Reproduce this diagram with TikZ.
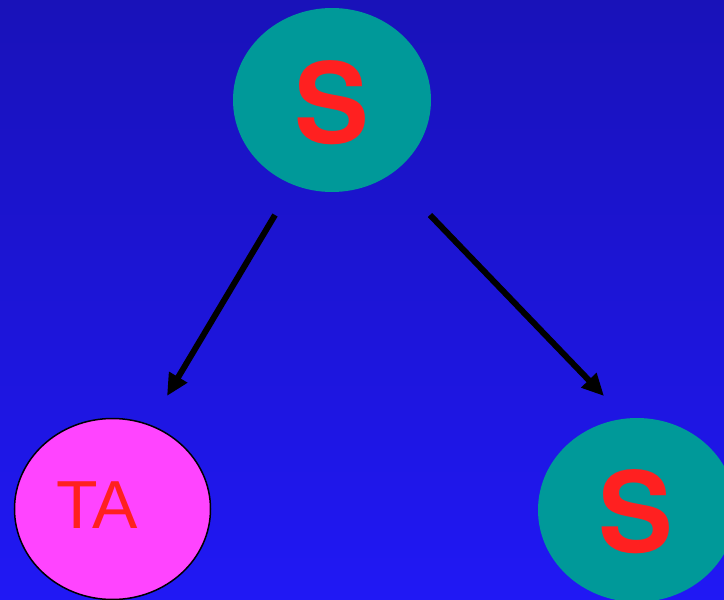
\documentclass[tikz,border=0pt]{standalone}
\usepackage{fontspec}
\setmainfont{Liberation Sans}
\newfontfamily\sboldfont{TeX Gyre Heros}
\usetikzlibrary{shapes.geometric,arrows.meta}
\definecolor{bgtop}{RGB}{25,18,185}
\definecolor{bgbot}{RGB}{32,24,245}
\definecolor{teal}{RGB}{0,153,153}
\definecolor{pinkf}{RGB}{255,68,255}
\definecolor{redt}{RGB}{255,32,32}
\tikzset{
  snode/.style={ellipse, fill=teal, inner sep=0pt, minimum width=198pt, minimum height=184pt},
  tanode/.style={ellipse, fill=pinkf, draw=black, line width=1.5pt, inner sep=0pt, minimum width=196pt, minimum height=181pt},
  stext/.style={text=redt, font=\sboldfont\bfseries\fontsize{112}{112}\selectfont},
  tatext/.style={text=redt, font=\fontsize{68}{68}\selectfont},
  arr/.style={line width=6pt, -{Triangle[length=22pt,width=20pt]}}
}
\begin{document}
\begin{tikzpicture}[x=1pt,y=-1pt]
\shade[top color=bgtop, bottom color=bgbot] (0,0) rectangle (724,600);
\useasboundingbox (0,0) rectangle (724,600);
\node[snode] (top) at (332,100) {};
\node[stext] (topS) at (332,103) {S};
\node[tanode] (ta) at (112.5,509) {};
\node[tatext] (taT) at (97,505) {TA};
\node[snode] (right) at (637,510) {};
\node[stext] (rightS) at (636,512) {S};
\coordinate (l1) at (275,215);
\coordinate (l2) at (167,396);
\coordinate (r1) at (430,215);
\coordinate (r2) at (604,396);
\draw[arr] (l1) -- (l2);
\draw[arr] (r1) -- (r2);
\end{tikzpicture}
\end{document}
